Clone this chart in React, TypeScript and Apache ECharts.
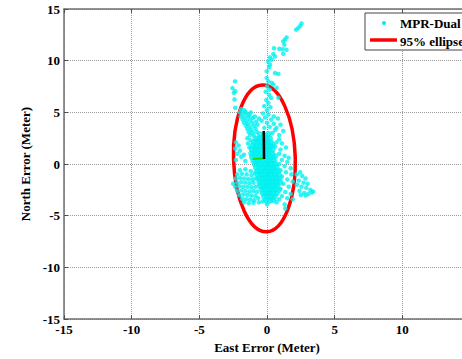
import React, { useEffect, useRef } from "react";
import * as echarts from "echarts";

const xTickLabels = [-15, -10, -5, 0, 5, 10];
const yTickLabels = [-15, -10, -5, 0, 5, 10, 15];

const tailPoints: number[][] = [
  [2.55, 13.6], [2.45, 13.35], [2.3, 13.15], [2.15, 13.0],
  [1.45, 12.25], [1.33, 12.05], [1.2, 11.85], [1.28, 11.55], [1.45, 11.05], [1.16, 11.1],
  [0.91, 11.15], [1.2, 10.67], [0.52, 11.2], [0.47, 10.64], [0.59, 10.41], [0.22, 10.32],
  [0.35, 10.1], [0.1, 9.93], [0.22, 9.6], [0.15, 9.36], [-0.02, 8.97], [0.59, 8.81],
  [0.84, 8.72], [-0.02, 8.33], [0.1, 8.0], [0.35, 7.85], [-2.36, 8.0],
];

const upperPoints: number[][] = [
  [-2.55, 7.35], [-2.35, 7.05], [-2.45, 6.9], [-2.4, 6.25], [-2.35, 5.45],
  [0.0, 7.5], [0.2, 7.2], [-0.1, 7.0], [0.15, 6.7], [0.3, 6.4], [-0.05, 6.2], [0.1, 5.9],
  [-0.2, 5.6], [0.25, 5.5], [0.0, 5.2], [-0.3, 4.9], [0.1, 4.8], [-0.15, 4.5], [0.3, 4.3],
  [-0.4, 4.2], [0.0, 4.0], [0.5, 3.9], [0.2, 3.6], [-0.2, 3.5], [0.6, 3.3], [0.4, 3.0], [0.9, 2.8],
  [0.47, 7.7], [0.71, 7.37], [0.84, 6.41],
];

const leftArm: number[][] = [
  [-1.9, 5.3], [-1.7, 5.2], [-2.0, 5.0], [-1.8, 4.8], [-1.55, 4.9], [-1.95, 4.6], [-1.65, 4.5],
  [-1.4, 4.6], [-1.8, 4.3], [-1.5, 4.2], [-1.25, 4.3], [-1.7, 4.0], [-1.4, 3.9], [-1.1, 4.0],
  [-1.55, 3.7], [-1.25, 3.6], [-0.95, 3.7], [-1.45, 3.4], [-1.15, 3.3], [-0.85, 3.4],
  [-1.35, 3.1], [-1.05, 3.0], [-0.75, 3.1], [-1.25, 2.8], [-0.95, 2.7], [-1.45, 2.5],
  [-1.2, 2.3], [-1.4, 2.0], [-1.3, 1.6], [-1.2, 5.0], [-0.9, 4.6], [-0.6, 4.4], [-0.7, 3.8],
  [-2.3, 2.1], [-2.1, 1.8], [-2.35, 1.5], [-2.0, 1.3], [-2.2, 1.0], [-1.9, 0.7], [-2.3, 0.4],
  [-1.7, 0.9], [-1.6, 0.3], [-1.6, 5.05], [-1.3, 4.75], [-1.05, 4.45], [-0.8, 4.1],
];

const rightUpper: number[][] = [
  [0.8, 4.4], [0.5, 4.6], [1.0, 3.8], [0.7, 3.5], [1.2, 3.2], [0.9, 2.4], [1.1, 2.0],
  [0.7, 2.1], [1.4, 1.6], [1.0, 1.4], [0.6, 1.7],
];

const corePoints: number[][] = [
  [-0.5, 2.85], [-0.2, 2.75], [0.1, 2.9],
  [-0.8, 2.4], [-0.55, 2.5], [-0.3, 2.45], [-0.05, 2.4], [0.2, 2.5],
  [-0.95, 2.1], [-0.7, 2.15], [-0.45, 2.05], [-0.2, 2.1], [0.05, 2.15], [0.3, 2.05],
  [-1.05, 1.8], [-0.8, 1.7], [-0.55, 1.75], [-0.3, 1.8], [-0.05, 1.7], [0.2, 1.75], [0.4, 1.8],
  [-1.1, 1.4], [-0.85, 1.45], [-0.6, 1.35], [-0.35, 1.4], [-0.1, 1.45], [0.15, 1.35], [0.4, 1.4],
  [-1.15, 1.05], [-0.9, 1.0], [-0.65, 1.1], [-0.4, 1.05], [-0.15, 1.0], [0.1, 1.1], [0.35, 1.05],
  [-1.1, 0.7], [-0.85, 0.75], [-0.6, 0.65], [-0.35, 0.7], [-0.1, 0.75], [0.15, 0.65], [0.4, 0.7], [0.6, 0.75],
  [-1.0, 0.35], [-0.75, 0.3], [-0.5, 0.4], [-0.25, 0.35], [0.0, 0.3], [0.25, 0.4], [0.5, 0.35],
  [-0.9, 0.0], [-0.65, 0.05], [-0.4, -0.05], [-0.15, 0.0], [0.1, 0.05], [0.35, -0.05], [0.6, 0.0],
  [-0.8, -0.35], [-0.55, -0.3], [-0.3, -0.4], [-0.05, -0.35], [0.2, -0.3], [0.45, -0.4], [0.7, -0.35],
  [-0.7, -0.7], [-0.45, -0.75], [-0.2, -0.65], [0.05, -0.7], [0.3, -0.75], [0.55, -0.65], [0.8, -0.7],
  [-0.65, -1.05], [-0.4, -1.0], [-0.15, -1.1], [0.1, -1.05], [0.35, -1.0], [0.6, -1.1], [0.85, -1.05],
  [-0.6, -1.4], [-0.35, -1.45], [-0.1, -1.35], [0.15, -1.4], [0.4, -1.45], [0.65, -1.35], [0.9, -1.4],
  [-0.55, -1.75], [-0.3, -1.7], [-0.05, -1.8], [0.2, -1.75], [0.45, -1.7], [0.7, -1.8], [0.95, -1.75],
  [-0.5, -2.1], [-0.25, -2.15], [0.0, -2.05], [0.25, -2.1], [0.5, -2.15], [0.75, -2.05],
  [-0.4, -2.45], [-0.15, -2.4], [0.1, -2.5], [0.35, -2.45], [0.6, -2.4], [0.85, -2.5],
  [-0.3, -2.8], [-0.05, -2.85], [0.2, -2.75], [0.45, -2.8], [0.7, -2.85],
  [-0.2, -3.15], [0.05, -3.1], [0.3, -3.2], [0.55, -3.15],
  [-0.05, -3.5], [0.2, -3.55], [0.45, -3.45],
];

const lowerLeft: number[][] = [
  [-2.0, -0.6], [-1.6, -0.5], [-1.2, -0.7], [-2.2, -1.0], [-1.85, -0.95], [-1.5, -1.0],
  [-1.15, -1.1], [-0.9, -0.9], [-2.3, -1.4], [-2.0, -1.35], [-1.7, -1.4], [-1.4, -1.45],
  [-1.1, -1.5], [-0.85, -1.4], [-2.2, -1.8], [-1.9, -1.75], [-1.6, -1.8], [-1.3, -1.85],
  [-1.0, -1.8], [-2.35, -2.2], [-2.05, -2.15], [-1.75, -2.2], [-1.45, -2.2], [-1.15, -2.25],
  [-0.85, -2.2], [-2.2, -2.6], [-1.9, -2.55], [-1.6, -2.6], [-1.3, -2.65], [-1.0, -2.6],
  [-0.75, -2.7], [-2.05, -3.0], [-1.75, -2.95], [-1.45, -3.0], [-1.15, -3.05], [-0.85, -3.1],
  [-1.85, -3.35], [-1.55, -3.4], [-1.25, -3.45], [-0.95, -3.5], [-0.65, -3.3], [-1.7, -3.7],
  [-1.35, -3.8], [-1.0, -3.75], [-0.6, -3.7], [-0.3, -3.6], [-2.5, -1.9],
];

const rightMiddle: number[][] = [
  [0.9, 1.0], [1.3, 0.8], [1.6, 0.6], [1.1, 0.4], [1.5, 0.2], [0.9, 0.0], [1.3, -0.2],
  [1.75, -0.4], [1.0, -0.6], [1.4, -0.8], [1.8, -1.0], [1.1, -1.2], [1.5, -1.5], [1.9, -1.7],
  [1.2, -1.9], [1.6, -2.2], [1.0, -2.4], [1.35, -2.7], [1.75, -2.9], [1.1, -3.1], [1.5, -3.3],
  [1.9, -3.4], [0.9, -3.4], [1.3, -3.9], [1.35, -4.3], [0.7, -3.7], [0.0, -3.9],
];

const rightLobe: number[][] = [
  [2.45, -0.8], [2.2, -1.0], [2.6, -1.15], [2.85, -1.4], [2.35, -1.6], [2.7, -1.8], [3.0, -1.9],
  [2.2, -2.0], [2.55, -2.2], [2.9, -2.3], [3.2, -2.5], [3.4, -2.65], [2.4, -2.6], [2.75, -2.8],
  [3.05, -2.9], [3.3, -2.75], [2.5, -3.0], [2.85, -3.05],
];

// ellipse: centerX, centerY, semi-axis east, semi-axis north
const ellipseParams: number[][] = [[-0.2, 0.55, 2.28, 7.1]];
const arrowNorth: number[][] = [[-0.22, 0.48], [-0.24, 3.2]];
const arrowEast: number[][] = [[-1.05, 0.5], [-0.18, 0.55]];

const FONT = "'Liberation Serif', 'Times New Roman', serif";

export default function App() {
  const ref = useRef<HTMLDivElement>(null);
  useEffect(() => {
    if (!ref.current) return;
    const chart = echarts.init(ref.current, null, { renderer: "svg" });
    const sparsePoints = [
      ...tailPoints, ...upperPoints, ...leftArm, ...rightUpper,
      ...lowerLeft, ...rightMiddle, ...rightLobe,
    ];
    const labelStyle = { color: "#000", fontFamily: FONT, fontWeight: "bold" as const, fontSize: 13 };
    const axisLine = { show: true, onZero: false, lineStyle: { color: "#707070", width: 1.5 } };
    const tick = { show: true, inside: true, length: 4, lineStyle: { color: "#505050", width: 1 } };
    chart.setOption({
      animation: false,
      backgroundColor: "#fff",
      grid: { left: 64, top: 9, width: 406, height: 312 },
      xAxis: [
        {
          type: "value", min: -15, max: 15, interval: 5, position: "bottom",
          axisLine, axisTick: tick,
          axisLabel: { ...labelStyle, margin: 4, formatter: (v: number) => (xTickLabels.includes(v) ? String(v) : "") },
          splitLine: { show: true, lineStyle: { type: "dotted", color: "#9a9a9a", width: 1 } },
          name: "East Error (Meter)", nameLocation: "middle", nameGap: 17,
          nameTextStyle: { ...labelStyle, fontSize: 13 },
        },
        {
          type: "value", min: -15, max: 15, interval: 5, position: "top",
          axisLine, axisTick: tick, axisLabel: { show: false }, splitLine: { show: false },
        },
      ],
      yAxis: [
        {
          type: "value", min: -15, max: 15, interval: 5, position: "left",
          axisLine, axisTick: tick,
          axisLabel: { ...labelStyle, margin: 4, formatter: (v: number) => (yTickLabels.includes(v) ? String(v) : "") },
          splitLine: { show: true, lineStyle: { type: "dotted", color: "#9a9a9a", width: 1 } },
          name: "North Error (Meter)", nameLocation: "middle", nameGap: 24, nameRotate: 90,
          nameTextStyle: { ...labelStyle, fontSize: 13 },
        },
        {
          type: "value", min: -15, max: 15, interval: 5, position: "right",
          axisLine, axisTick: tick, axisLabel: { show: false }, splitLine: { show: false },
        },
      ],
      series: [
        {
          type: "scatter", name: "MPR-Dual", data: sparsePoints, symbol: "circle", symbolSize: 4.5,
          itemStyle: { color: "#00f0f0" },
        },
        {
          type: "scatter", name: "MPR-Dual core", data: corePoints, symbol: "circle", symbolSize: 6.5,
          itemStyle: { color: "#00f0f0" },
        },
        {
          type: "custom", name: "95% ellipse", data: ellipseParams,
          renderItem: (params: any, api: any) => {
            const c = api.coord([api.value(0), api.value(1)]);
            const s = api.size([api.value(2), api.value(3)]);
            return {
              type: "ellipse",
              shape: { cx: c[0], cy: c[1], rx: s[0], ry: s[1] },
              originX: c[0], originY: c[1], rotation: 0.03,
              style: { fill: "none", stroke: "#ff0000", lineWidth: 3.5 },
            };
          },
        },
        {
          type: "line", data: arrowEast, showSymbol: false, symbol: "none",
          lineStyle: { color: "#22dd00", width: 2 },
        },
        {
          type: "line", data: arrowNorth, showSymbol: false, symbol: "none",
          lineStyle: { color: "#000", width: 2.5 },
        },
      ],
      graphic: [
        {
          type: "rect", shape: { x: 365, y: 13, width: 130, height: 37 },
          style: { fill: "#fff", stroke: "#444", lineWidth: 1 }, z: 100,
        },
        { type: "circle", shape: { cx: 384, cy: 23, r: 2 }, style: { fill: "#00f0f0" }, z: 101 },
        {
          type: "text", x: 400, y: 23, z: 101,
          style: { text: "MPR-Dual", fill: "#000", fontFamily: FONT, fontWeight: "bold", fontSize: 13, verticalAlign: "middle", align: "left" },
        },
        {
          type: "line", shape: { x1: 370, y1: 40, x2: 397, y2: 40 }, z: 101,
          style: { stroke: "#ff0000", lineWidth: 3.5 },
        },
        {
          type: "text", x: 400, y: 41, z: 101,
          style: { text: "95% ellipse", fill: "#000", fontFamily: FONT, fontWeight: "bold", fontSize: 13, verticalAlign: "middle", align: "left" },
        },
      ],
    });
    return () => chart.dispose();
  }, []);
  return (
    <div style={{ position: "fixed", left: 0, top: 0, width: 462, height: 359, overflow: "hidden", background: "#fff" }}>
      <div ref={ref} style={{ width: 490, height: 359 }} />
    </div>
  );
}
